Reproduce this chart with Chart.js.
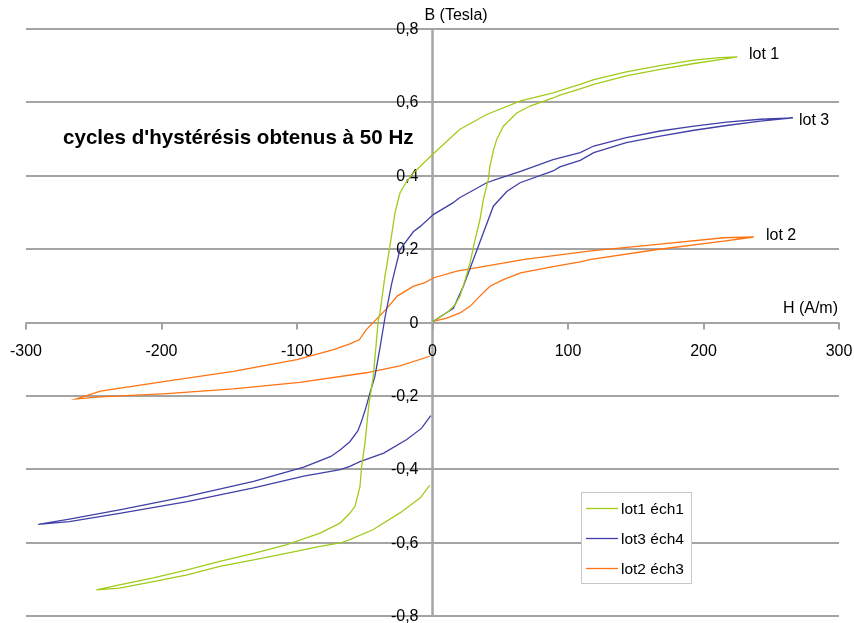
<!DOCTYPE html>
<html lang="fr">
<head>
<meta charset="utf-8">
<title>cycles d'hystérésis</title>
<script src="https://cdn.jsdelivr.net/npm/chart.js@4.4.0/dist/chart.umd.min.js"></script>
<style>
  html, body { margin: 0; padding: 0; background: #fff; }
  #wrap { width: 854px; height: 623px; position: relative; }
</style>
</head>
<body>
<div id="wrap"><canvas id="bh"></canvas></div>
<script>
// H (A/m) and B (Tesla), in drawing order around each loop
const lot1H = [0.6, 5.5, 11.7, 17, 20.3, 24, 27.7, 31, 35, 37.5, 41.2, 42.4, 45, 47.4, 52.3, 62.2, 72, 89, 94, 109, 119, 143, 168, 193, 217, 225,
  212, 193, 168, 143, 119, 109, 94, 89, 65, 40, 20, 0, -9, -14, -19, -24, -27.7, -31.4, -35.1, -38.8, -40, -43.7, -47, -49.8, -52.3, -53.5, -57.2, -61, -68.3, -83, -108, -132, -157, -181, -206, -231, -248,
  -231, -206, -181, -157, -132, -108, -83, -68, -61, -44, -24, -9, -2];
const lot1B = [0.003, 0.015, 0.03, 0.05, 0.072, 0.115, 0.162, 0.22, 0.28, 0.335, 0.39, 0.426, 0.47, 0.499, 0.535, 0.571, 0.59, 0.612, 0.62, 0.637, 0.649, 0.672, 0.69, 0.706, 0.719, 0.724,
  0.722, 0.715, 0.7, 0.683, 0.662, 0.649, 0.632, 0.626, 0.604, 0.567, 0.526, 0.458, 0.426, 0.408, 0.385, 0.353, 0.299, 0.208, 0.126, 0.026, 0.0075, -0.147, -0.225, -0.328, -0.392, -0.447, -0.501, -0.52, -0.547, -0.574, -0.606, -0.629, -0.651, -0.674, -0.696, -0.715, -0.729,
  -0.724, -0.706, -0.688, -0.665, -0.647, -0.629, -0.61, -0.601, -0.592, -0.565, -0.519, -0.478, -0.443];

const lot3H = [0.6, 5.5, 15.4, 22.7, 30.1, 37.5, 44.9, 54.8, 64.6, 89, 94, 109, 119, 143, 168, 193, 217, 242, 266,
  242, 217, 193, 168, 143, 119, 109, 94, 89, 65, 47, 40, 20, 15, 0.6, -9, -14, -24, -30, -35, -39, -42.5, -46, -49, -52, -55, -61, -68, -75, -95, -132, -181, -231, -268, -291,
  -268, -231, -181, -132, -95, -68, -61, -53.5, -36, -19, -8, -1.3];
const lot3B = [0.003, 0.015, 0.039, 0.098, 0.171, 0.244, 0.317, 0.357, 0.381, 0.413, 0.424, 0.442, 0.463, 0.49, 0.508, 0.524, 0.537, 0.549, 0.558,
  0.554, 0.546, 0.535, 0.522, 0.504, 0.481, 0.463, 0.449, 0.444, 0.412, 0.39, 0.381, 0.34, 0.326, 0.294, 0.262, 0.248, 0.199, 0.108, 0.015, -0.074, -0.147, -0.19, -0.23, -0.265, -0.295, -0.325, -0.347, -0.365, -0.394, -0.433, -0.474, -0.511, -0.536, -0.55,
  -0.543, -0.52, -0.488, -0.451, -0.419, -0.401, -0.392, -0.379, -0.356, -0.319, -0.288, -0.254];

const lot2H = [0.6, 10.5, 20.3, 27.7, 35, 42.4, 52.3, 65, 89, 109, 117, 166, 215, 237,
  215, 166, 117, 68, 18, 1, -6, -14, -26, -34, -44, -49, -54, -61, -73, -100, -147, -196, -245, -263,
  -245, -196, -147, -98, -49, -24, -2];
const lot2B = [0.003, 0.012, 0.026, 0.044, 0.072, 0.099, 0.117, 0.135, 0.152, 0.165, 0.172, 0.199, 0.222, 0.233,
  0.231, 0.213, 0.195, 0.172, 0.14, 0.122, 0.108, 0.099, 0.072, 0.037, -0.001, -0.02, -0.047, -0.058, -0.074, -0.101, -0.133, -0.16, -0.187, -0.208,
  -0.203, -0.194, -0.181, -0.163, -0.137, -0.118, -0.092];

const seriesNames = ['lot1 éch1', 'lot3 éch4', 'lot2 éch3'];
const seriesColors = ['#9fcc1a', '#4040a8', '#ff7312'];
const curveTags = ['lot 1', 'lot 3', 'lot 2'];
const chartTitle = "cycles d'hystérésis obtenus à 50 Hz";

const toPoints = (hs, bs) => hs.map((h, i) => ({ x: h, y: bs[i] }));
const GRID = '#a4a4a4';
const FONT = '"Liberation Sans", Arial, sans-serif';

function fmt(v) {
  const r = Math.round(v * 10) / 10;
  return r === 0 ? '0' : String(r).replace('.', ',');
}

// axes through the origin, labels, annotations and the boxed legend
const overlay = {
  id: 'overlay',
  beforeDatasetsDraw(chart) {
    const { ctx, chartArea: a, scales: { x, y } } = chart;
    const x0 = x.getPixelForValue(0), y0 = y.getPixelForValue(0);
    ctx.save();
    ctx.strokeStyle = GRID;
    ctx.lineWidth = 2.5;
    ctx.beginPath();
    ctx.moveTo(x0, a.top);
    ctx.lineTo(x0, a.bottom);
    ctx.stroke();
    ctx.lineWidth = 2;
    x.ticks.forEach(t => {
      const px = Math.round(x.getPixelForValue(t.value));
      ctx.beginPath();
      ctx.moveTo(px, y0);
      ctx.lineTo(px, y0 + 7);
      ctx.stroke();
    });

    ctx.fillStyle = '#000';
    ctx.font = '16px ' + FONT;
    ctx.textBaseline = 'alphabetic';
    ctx.textAlign = 'center';
    x.ticks.forEach(t => ctx.fillText(String(Math.round(t.value)), x.getPixelForValue(t.value), y0 + 33));
    ctx.textAlign = 'right';
    y.ticks.forEach(t => ctx.fillText(fmt(t.value), x0 - 14, y.getPixelForValue(t.value) + 5));

    ctx.textAlign = 'left';
    ctx.fillText('B (Tesla)', x0 - 8, a.top - 9);
    ctx.textAlign = 'right';
    ctx.fillText('H (A/m)', a.right - 1, y0 - 10);

    ctx.textAlign = 'left';
    ctx.font = 'bold 20.6px ' + FONT;
    ctx.fillText(chartTitle, 63, 144);
    ctx.restore();
  },
  afterDatasetsDraw(chart) {
    const { ctx } = chart;
    ctx.save();
    ctx.fillStyle = '#000';
    ctx.font = '16px ' + FONT;
    ctx.textAlign = 'left';
    ctx.fillText(curveTags[0], 749, 59);
    ctx.fillText(curveTags[1], 799, 125);
    ctx.fillText(curveTags[2], 766, 240);

    // legend box
    ctx.fillStyle = '#fff';
    ctx.fillRect(581, 492, 110, 91);
    ctx.strokeStyle = '#c8c8c8';
    ctx.lineWidth = 1;
    ctx.strokeRect(581.5, 492.5, 110, 91);
    ctx.font = '15.5px ' + FONT;
    chart.data.datasets.forEach((ds, i) => {
      const cy = 508.5 + i * 30;
      ctx.strokeStyle = ds.borderColor;
      ctx.lineWidth = 1.3;
      ctx.beginPath();
      ctx.moveTo(586, cy);
      ctx.lineTo(618, cy);
      ctx.stroke();
      ctx.fillStyle = '#000';
      ctx.fillText(ds.label, 621, cy + 5);
    });
    ctx.restore();
  }
};

new Chart(document.getElementById('bh'), {
  type: 'scatter',
  data: {
    datasets: [
      { label: seriesNames[0], data: toPoints(lot1H, lot1B), borderColor: seriesColors[0] },
      { label: seriesNames[1], data: toPoints(lot3H, lot3B), borderColor: seriesColors[1] },
      { label: seriesNames[2], data: toPoints(lot2H, lot2B), borderColor: seriesColors[2] }
    ]
  },
  options: {
    responsive: true,
    maintainAspectRatio: false,
    animation: false,
    showLine: true,
    elements: {
      point: { radius: 0, hoverRadius: 0 },
      line: { borderWidth: 1.3, tension: 0, fill: false }
    },
    layout: { padding: { left: 26, right: 15, top: 29, bottom: 7 } },
    plugins: { legend: { display: false }, tooltip: { enabled: false } },
    scales: {
      x: {
        type: 'linear', min: -300, max: 300,
        ticks: { display: false, stepSize: 100 },
        grid: { display: false, drawTicks: false },
        border: { display: false }
      },
      y: {
        type: 'linear', min: -0.8, max: 0.8,
        ticks: { display: false, stepSize: 0.2 },
        grid: { color: GRID, lineWidth: 2, drawTicks: false },
        border: { display: false }
      }
    }
  },
  plugins: [overlay]
});
</script>
</body>
</html>
